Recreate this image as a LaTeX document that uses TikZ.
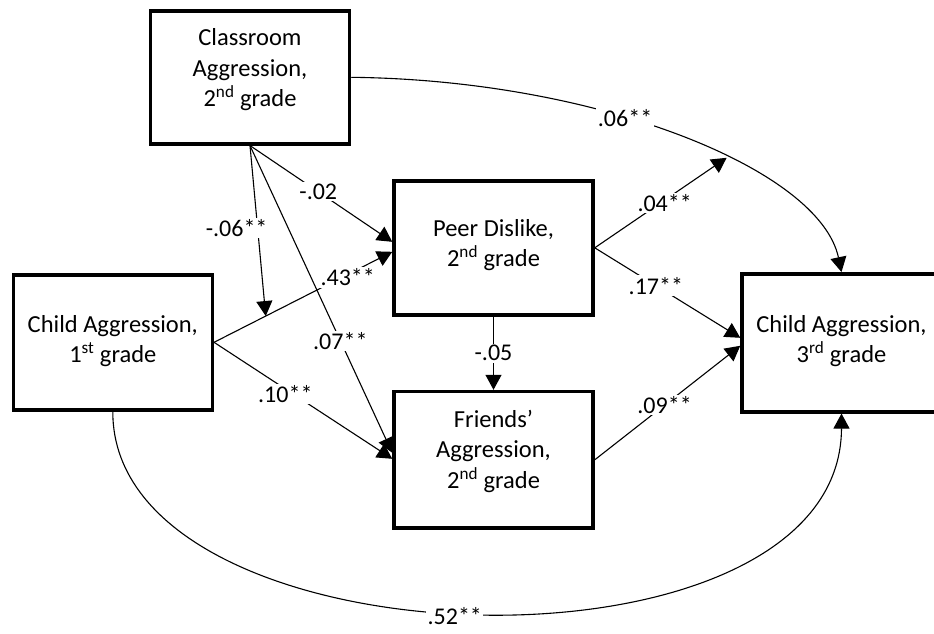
\documentclass[tikz,border=0pt]{standalone}
\usepackage{fontspec}
\setmainfont{Carlito}
\usetikzlibrary{arrows.meta,calc}
\begin{document}
\begin{tikzpicture}[x=1pt,y=-1pt,
  box/.style={draw,line width=3.5pt,inner sep=0pt,minimum width=199pt,minimum height=135pt},
  txt/.style={align=center,inner sep=0pt,font=\fontsize{24.5}{30.5}\selectfont},
  lbl/.style={fill=white,inner sep=1.5pt,font=\fontsize{24}{28}\selectfont},
  conn/.style={line width=1.1pt,-{Triangle[length=15pt,width=16pt]}}]
\useasboundingbox (0,0) rectangle (934,633);
\clip (0,0) rectangle (934,633);
% boxes
\node[box,minimum height=133pt] (cls) at (250,77.3) {};
\node[txt] (clst) at (250,70) {Classroom\\Aggression,\\2\textsuperscript{nd} grade};
\node[box,minimum height=134pt] (peer) at (493.5,247.8) {};
\node[txt] (peert) at (493.5,245) {Peer Dislike,\\2\textsuperscript{nd} grade};
\node[box] (ca1) at (112.8,342.3) {};
\node[txt] (ca1t) at (112.8,341) {Child Aggression,\\1\textsuperscript{st} grade};
\node[box,minimum height=136.5pt] (fr) at (493.5,459.8) {};
\node[txt] (frt) at (493.5,451) {Friends’\\Aggression,\\2\textsuperscript{nd} grade};
\node[box,minimum height=138pt] (ca3) at (841.5,342.8) {};
\node[txt] (ca3t) at (841.5,341) {Child Aggression,\\3\textsuperscript{rd} grade};
% end points
\coordinate (pA) at ($(peer.west)+(0,-6)$);
\coordinate (pB) at ($(peer.west)+(0,4)$);
\coordinate (fA) at ($(fr.west)+(0,-7)$);
\coordinate (fB) at ($(fr.west)+(0,-1)$);
\coordinate (cA) at ($(ca3.west)+(0,-5)$);
\coordinate (cB) at ($(ca3.west)+(0,3)$);
\coordinate (m1) at ($(ca1.east)!0.29!(pB)$);
% curves
\draw[conn] (cls.east) .. controls (600,80) and (820,170) .. (ca3.north)
  node[lbl,pos=0.4] {.06**} coordinate[pos=0.59] (j);
\draw[conn] (ca1.south) .. controls (112,670) and (841,690) .. (ca3.south)
  node[lbl,pos=0.48,yshift=-4pt] {.52**};
% straight paths
\draw[conn] (cls.south) -- node[lbl,pos=0.48] {-.02} (pA);
\draw[conn] (ca1.east) -- node[lbl,pos=0.75,yshift=-3pt] {.43**} (pB);
\draw[conn] (cls.south) -- node[lbl,pos=0.485,xshift=-21pt] {-.06**} (m1);
\draw[conn] (cls.south) -- node[lbl,pos=0.635] {.07**} (fA);
\draw[conn] (ca1.east) -- node[lbl,pos=0.40,yshift=-5pt] {.10**} (fB);
\draw[conn] (peer.south) -- node[lbl] {-.05} (fr.north);
\draw[conn] (peer.east) -- node[lbl,pos=0.53,yshift=-3pt] {.04**} (j);
\draw[conn] (peer.east) -- node[lbl,pos=0.42] {.17**} (cA);
\draw[conn] (fr.east) -- node[lbl,pos=0.48] {.09**} (cB);
\end{tikzpicture}
\end{document}
